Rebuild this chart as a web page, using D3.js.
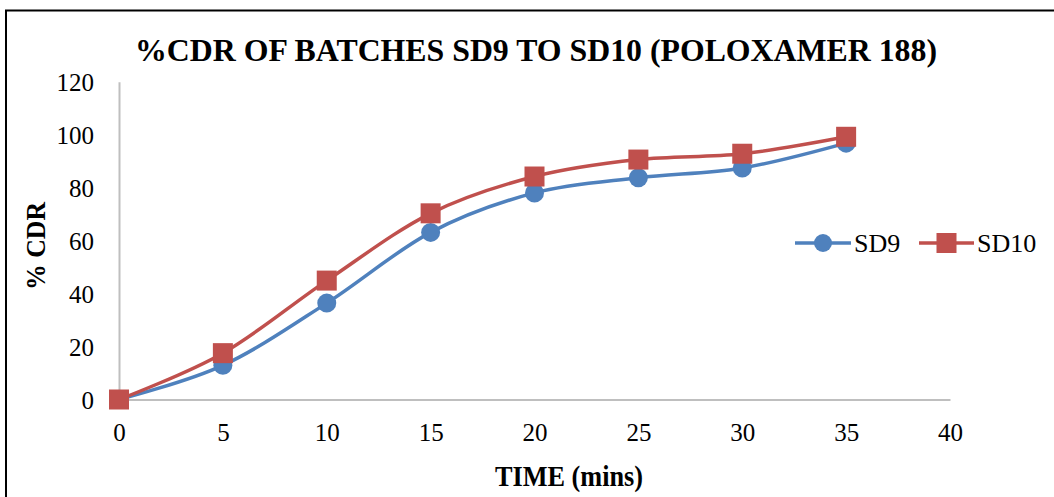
<!DOCTYPE html>
<html>
<head>
<meta charset="utf-8">
<script src="https://cdn.jsdelivr.net/npm/d3@7"></script>
<style>
  html, body { margin: 0; padding: 0; background: #fff; }
  svg { display: block; }
  svg text { font-family: "Liberation Serif", Tinos, "Times New Roman", Times, "DejaVu Serif", serif !important; fill: #000; }
</style>
</head>
<body>
<svg id="chart" width="1054" height="497"></svg>
<script>
const timePoints = [0, 5, 10, 15, 20, 25, 30, 35];
const sd9Values  = [0, 12.9, 36.4, 63.1, 78.0, 83.7, 87.4, 96.8];
const sd10Values = [0, 17.5, 44.9, 70.3, 84.2, 90.6, 92.8, 99.2];
const xTicks = [0, 5, 10, 15, 20, 25, 30, 35, 40];
const yTicks = [0, 20, 40, 60, 80, 100, 120];
const seriesNames = ["SD9", "SD10"];
const seriesColors = ["#4F81BD", "#C0504D"];

const series = [
  { name: seriesNames[0], values: sd9Values, color: seriesColors[0], shape: "circle" },
  { name: seriesNames[1], values: sd10Values, color: seriesColors[1], shape: "square" }
];

const svg = d3.select("#chart");

// outer border
svg.append("rect")
  .attr("x", 6).attr("y", 10.5)
  .attr("width", 1060).attr("height", 500)
  .attr("fill", "none").attr("stroke", "#000").attr("stroke-width", 2);

const x = d3.scaleLinear().domain([0, 40]).range([119, 950]);
const y = d3.scaleLinear().domain([0, 120]).range([399.5, 81.7]);

// axes
const xAxis = svg.append("g").attr("transform", `translate(0,${y(0)})`)
  .call(d3.axisBottom(x).tickValues(xTicks).tickSize(0).tickPadding(0));
xAxis.attr("font-family", null).attr("font-size", null);
xAxis.select(".domain").attr("stroke", "#BFBFBF").attr("stroke-width", 2);
xAxis.selectAll(".tick text")
  .attr("font-size", 25).attr("dy", null).attr("y", 41.5);

const yAxis = svg.append("g").attr("transform", `translate(${x(0)},0)`)
  .call(d3.axisLeft(y).tickValues(yTicks).tickSize(0).tickPadding(0));
yAxis.attr("font-family", null).attr("font-size", null);
yAxis.select(".domain").attr("stroke", "#BFBFBF").attr("stroke-width", 2);
yAxis.selectAll(".tick text")
  .attr("font-size", 25).attr("x", -25).attr("dy", "0.34em");

// lines
const line = d3.line()
  .x((d, i) => x(timePoints[i]))
  .y(d => y(d))
  .curve(d3.curveCardinal.tension(0));

series.forEach(s => {
  svg.append("path")
    .datum(s.values)
    .attr("d", line)
    .attr("fill", "none")
    .attr("stroke", s.color)
    .attr("stroke-width", 3.5)
    .attr("stroke-linejoin", "round");
});

series.forEach(s => {
  const g = svg.append("g");
  if (s.shape === "circle") {
    g.selectAll("circle").data(s.values).join("circle")
      .attr("cx", (d, i) => x(timePoints[i]))
      .attr("cy", d => y(d))
      .attr("r", 9.5)
      .attr("fill", s.color);
  } else {
    g.selectAll("rect").data(s.values).join("rect")
      .attr("x", (d, i) => x(timePoints[i]) - 10)
      .attr("y", d => y(d) - 10)
      .attr("width", 20).attr("height", 20)
      .attr("fill", s.color);
  }
});

// title
svg.append("text")
  .attr("x", 135).attr("y", 61)
  .attr("font-size", 32).attr("font-weight", "bold")
  .attr("textLength", 802).attr("lengthAdjust", "spacingAndGlyphs")
  .text("%CDR OF BATCHES SD9 TO SD10 (POLOXAMER 188)");

// x axis title
svg.append("text")
  .attr("x", 495).attr("y", 486)
  .attr("font-size", 29).attr("font-weight", "bold")
  .attr("textLength", 148).attr("lengthAdjust", "spacingAndGlyphs")
  .text("TIME (mins)");

// y axis title
svg.append("text")
  .attr("transform", "translate(45,290) rotate(-90)")
  .attr("font-size", 27).attr("font-weight", "bold")
  .attr("textLength", 88).attr("lengthAdjust", "spacingAndGlyphs")
  .text("% CDR");

// legend
const legendItems = [
  { s: series[0], x1: 795, x2: 851, tx: 854 },
  { s: series[1], x1: 919, x2: 974, tx: 977 }
];
const ly = 243;
legendItems.forEach(it => {
  svg.append("line")
    .attr("x1", it.x1).attr("x2", it.x2).attr("y1", ly).attr("y2", ly)
    .attr("stroke", it.s.color).attr("stroke-width", 3.5);
  const cx = (it.x1 + it.x2) / 2;
  if (it.s.shape === "circle") {
    svg.append("circle").attr("cx", cx).attr("cy", ly).attr("r", 9).attr("fill", it.s.color);
  } else {
    svg.append("rect").attr("x", cx - 10).attr("y", ly - 10)
      .attr("width", 20).attr("height", 20).attr("fill", it.s.color);
  }
  svg.append("text")
    .attr("x", it.tx).attr("y", ly + 9)
    .attr("font-size", 26)
    .text(it.s.name);
});
</script>
</body>
</html>
